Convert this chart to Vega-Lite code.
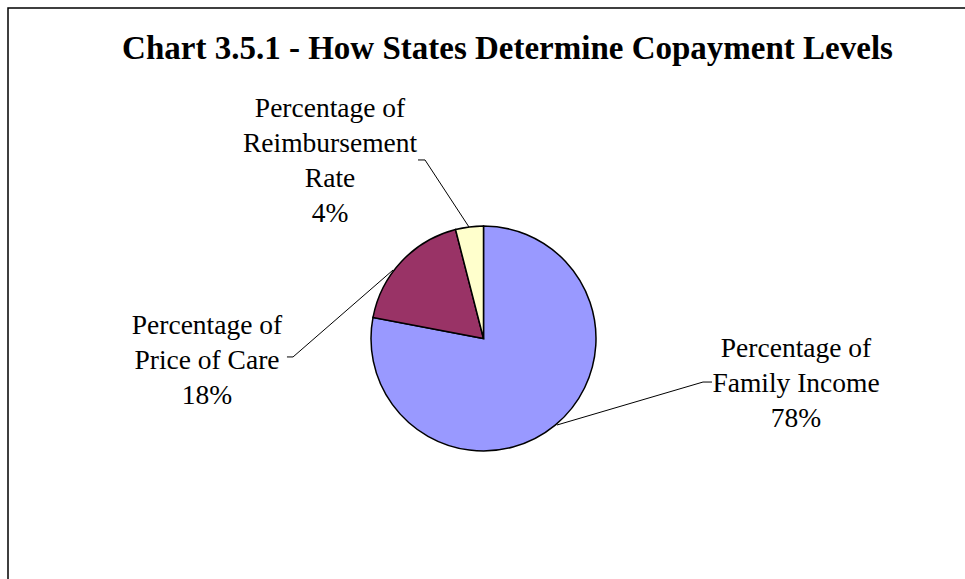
{
  "$schema": "https://vega.github.io/schema/vega-lite/v6.json",
  "width": 957,
  "height": 571,
  "autosize": {"type": "none"},
  "padding": {"left": 8, "top": 8, "right": 0, "bottom": 0},
  "background": "white",
  "config": {
    "view": {"stroke": "#000000", "strokeWidth": 1.5, "strokeDash": [957, 1528, 571]},
    "font": "Liberation Serif"
  },
  "title": {
    "text": "Chart 3.5.1 - How States Determine Copayment Levels",
    "font": "Liberation Serif",
    "fontSize": 33,
    "fontWeight": "bold",
    "color": "#000000",
    "anchor": "middle",
    "frame": "group",
    "baseline": "alphabetic",
    "offset": -84,
    "dx": 21
  },
  "datasets": {
    "shares": [
      {"category": "Percentage of Family Income", "percent": 78},
      {"category": "Percentage of Price of Care", "percent": 18},
      {"category": "Percentage of Reimbursement Rate", "percent": 4}
    ],
    "labels": [
      {"category": "Percentage of Family Income", "label": "Percentage of\nFamily Income\n78%", "x": 2.778, "y": -0.164},
      {"category": "Percentage of Price of Care", "label": "Percentage of\nPrice of Care\n18%", "x": -2.458, "y": 0.04},
      {"category": "Percentage of Reimbursement Rate", "label": "Percentage of\nReimbursement\nRate\n4%", "x": -1.364, "y": 1.969}
    ],
    "leaders": [
      {"category": "Percentage of Family Income", "seq": 1, "x": 2.031, "y": -0.387},
      {"category": "Percentage of Family Income", "seq": 2, "x": 1.951, "y": -0.387},
      {"category": "Percentage of Family Income", "seq": 3, "x": 0.653, "y": -0.769},
      {"category": "Percentage of Price of Care", "seq": 1, "x": -1.747, "y": -0.164},
      {"category": "Percentage of Price of Care", "seq": 2, "x": -1.693, "y": -0.164},
      {"category": "Percentage of Price of Care", "seq": 3, "x": -0.804, "y": 0.609},
      {"category": "Percentage of Reimbursement Rate", "seq": 1, "x": -0.582, "y": 1.587},
      {"category": "Percentage of Reimbursement Rate", "seq": 2, "x": -0.52, "y": 1.587},
      {"category": "Percentage of Reimbursement Rate", "seq": 3, "x": -0.129, "y": 0.991}
    ]
  },
  "layer": [
    {
      "data": {"name": "leaders"},
      "mark": {"type": "line", "stroke": "#000000", "strokeWidth": 1},
      "encoding": {
        "x": {"field": "x", "type": "quantitative", "scale": {"domain": [-4.2267, 4.28], "nice": false, "zero": false}, "axis": null},
        "y": {"field": "y", "type": "quantitative", "scale": {"domain": [-2.1378, 2.9378], "nice": false, "zero": false}, "axis": null},
        "detail": {"field": "category", "type": "nominal"},
        "order": {"field": "seq", "type": "quantitative"}
      }
    },
    {
      "data": {"name": "shares"},
      "mark": {"type": "arc", "outerRadius": 112.5, "stroke": "#000000", "strokeWidth": 1.5},
      "encoding": {
        "theta": {"field": "percent", "type": "quantitative", "stack": true},
        "color": {
          "field": "category",
          "type": "nominal",
          "scale": {
            "domain": ["Percentage of Family Income", "Percentage of Price of Care", "Percentage of Reimbursement Rate"],
            "range": ["#9999FF", "#993366", "#FFFFCC"]
          },
          "legend": null
        },
        "x": {"datum": 0, "type": "quantitative"},
        "y": {"datum": 0, "type": "quantitative"}
      }
    },
    {
      "data": {"name": "labels"},
      "mark": {"type": "text", "align": "center", "baseline": "alphabetic", "fontSize": 27.5, "lineHeight": 35, "lineBreak": "\n", "font": "Liberation Serif", "color": "#000000"},
      "encoding": {
        "x": {"field": "x", "type": "quantitative"},
        "y": {"field": "y", "type": "quantitative"},
        "text": {"field": "label", "type": "nominal"}
      }
    }
  ]
}
